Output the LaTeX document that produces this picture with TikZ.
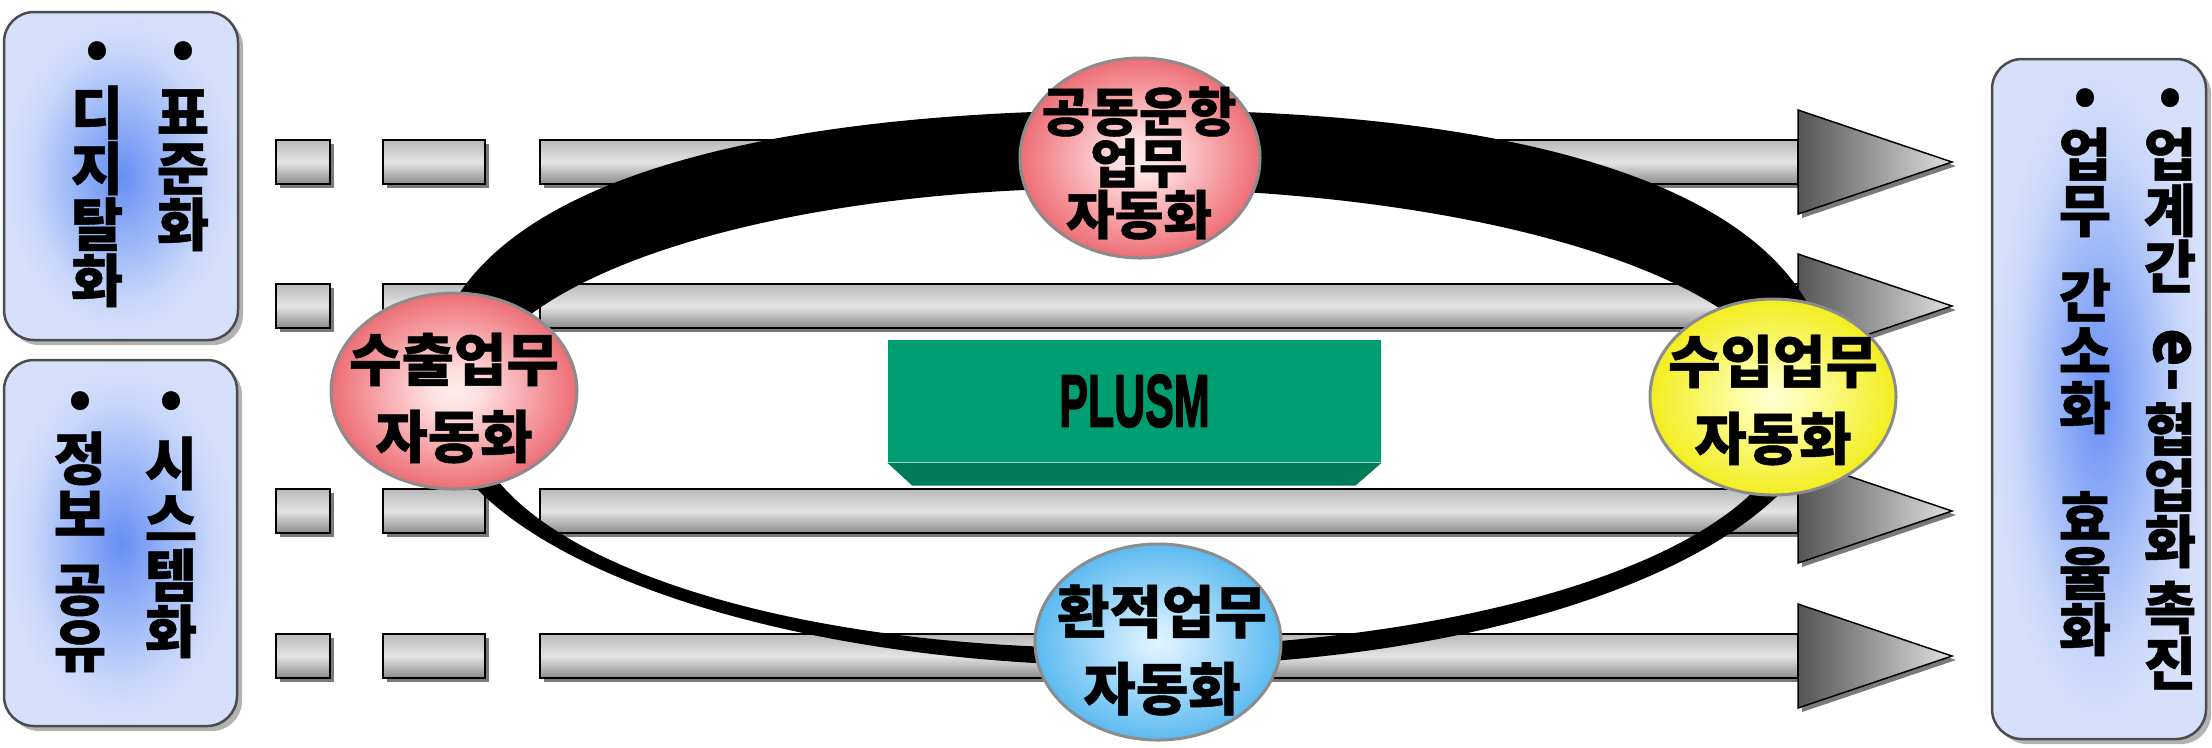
\documentclass[tikz,border=0pt]{standalone}
\usepackage{graphicx}
\usepackage{fontspec}
\setmainfont{Liberation Sans}
\newfontfamily\kr{Noto Sans CJK KR}[BoldFeatures={FakeBold=0.8}]
\newfontfamily\heavy{Liberation Sans}[BoldFeatures={FakeBold=2.5}]
\usetikzlibrary{shapes.geometric,shadows}
\newdimen\pxu
\pxu=0.01cm
\definecolor{gtop}{RGB}{185,185,185}
\definecolor{gmid}{RGB}{228,228,228}
\definecolor{gbot}{RGB}{140,140,140}
\definecolor{plusmface}{RGB}{0,158,115}
\definecolor{plusmside}{RGB}{0,124,90}
\pgfdeclarehorizontalshading{headshade}{100bp}{rgb(0bp)=(0.33,0.33,0.33); rgb(25bp)=(0.33,0.33,0.33); rgb(75bp)=(0.88,0.88,0.88); rgb(100bp)=(0.88,0.88,0.88)}
\pgfdeclareradialshading{redball}{\pgfpoint{0bp}{0bp}}{rgb(0bp)=(1,0.93,0.93); rgb(5bp)=(1,0.88,0.88); rgb(25bp)=(0.93,0.43,0.46); rgb(50bp)=(0.93,0.43,0.46)}
\pgfdeclareradialshading{yellowball}{\pgfpoint{0bp}{0bp}}{rgb(0bp)=(1,1,0.85); rgb(5bp)=(1,1,0.7); rgb(25bp)=(0.95,0.93,0.12); rgb(50bp)=(0.95,0.93,0.12)}
\pgfdeclareradialshading{blueball}{\pgfpoint{0bp}{0bp}}{rgb(0bp)=(0.88,0.96,1); rgb(5bp)=(0.8,0.92,1); rgb(25bp)=(0.36,0.73,0.94); rgb(50bp)=(0.36,0.73,0.94)}
\pgfdeclareradialshading{boxglow}{\pgfpoint{0bp}{0bp}}{rgb(0bp)=(0.4,0.56,0.96); rgb(19bp)=(0.78,0.84,0.98); rgb(25bp)=(0.84,0.88,0.98); rgb(50bp)=(0.84,0.88,0.98)}
\tikzset{
  shadowed/.style={drop shadow={shadow xshift=4\pxu, shadow yshift=-4\pxu, opacity=0.8, fill=black!65}},
  graybar/.style={draw=black, line width=1.5\pxu, top color=gtop, bottom color=gbot, middle color=gmid, shadowed},
  grayhead/.style={draw=black, line width=1.5\pxu, shading=headshade, shadowed},
  grayrow/.pic={
    \path[graybar] (276,-22) rectangle (330,22);
    \path[graybar] (383,-22) rectangle (485,22);
    \path[graybar] (540,-22) rectangle (1798,22);
    \path[grayhead] (1798,-52) -- (1952,0) -- (1798,52) -- cycle;
  },
  infobox/.style={draw=black!70, line width=2.5\pxu, rounded corners=30\pxu, shading=boxglow, inner sep=0pt,
    drop shadow={shadow xshift=5\pxu, shadow yshift=-5\pxu, opacity=0.5, fill=black!60}},
  colfont/.style={font={\kr\bfseries\fontsize{57\pxu}{56\pxu}\selectfont\lineskiplimit-100pt}},
  coltext/.style={anchor=north, inner sep=0pt, align=center, colfont},
  ball/.style={ellipse, draw=black!45, line width=3\pxu, inner sep=0pt, minimum width=246\pxu, minimum height=196\pxu},
  balltext/.style={inner sep=0pt, align=center,
    font={\kr\bfseries\fontsize{57\pxu}{77\pxu}\selectfont\lineskiplimit-100pt}},
  balltextsmall/.style={inner sep=0pt, align=center,
    font={\kr\bfseries\fontsize{53\pxu}{51.5\pxu}\selectfont\lineskiplimit-100pt}},
  bandfill/.style={fill=black, even odd rule},
  plusmbox/.style={fill=plusmface, inner sep=0pt, minimum width=493\pxu, minimum height=122\pxu,
    font={\heavy\bfseries\fontsize{74\pxu}{80\pxu}\selectfont}},
}
\begin{document}
\begin{tikzpicture}[x=0.01cm,y=-0.01cm]
\useasboundingbox (0,0) rectangle (2212,747);
\fill[white] (0,0) rectangle (2212,747);

% gray rows
\pic at (0,162) {grayrow};
\pic at (0,306) {grayrow};
\pic at (0,511) {grayrow};
\pic at (0,656) {grayrow};

% black band (outer boundary, inner boundary)
\path[bandfill]
  (430,390) .. controls (430,210.8) and (685.6,110) .. (1140,110)
            .. controls (1581.6,110) and (1830,210.8) .. (1830,390)
            .. controls (1830,542.4) and (1521.1,666) .. (1140,666)
            .. controls (747.9,666) and (430,542.4) .. (430,390) -- cycle
  (470,410) .. controls (470,285.7) and (752.5,188) .. (1112,188)
            .. controls (1493.4,188) and (1793,285.7) .. (1793,410)
            .. controls (1793,543.3) and (1493.4,648) .. (1112,648)
            .. controls (752.5,648) and (470,543.3) .. (470,410) -- cycle;

% PLUSM block
\node[plusmbox] (plusm) at (1134.5,401) {\scalebox{0.58}[1]{PLUSM}};
\fill[plusmside] (plusm.south west) -- ++(25,23) -- ++(443,0) -- (plusm.south east) -- cycle;

% ellipses
\node[ball, shading=redball] (exp) at (454,391) {};
\node[balltext] (expt) at (454,398) {수출업무\\자동화};
\node[ball, shading=redball, minimum width=240\pxu, minimum height=200\pxu] (cop) at (1140,158) {};
\node[balltextsmall] (copt) at (1139,163) {공동운항\\업무\\자동화};
\node[ball, shading=yellowball] (imp) at (1773,397) {};
\node[balltext] (impt) at (1773,400) {수입업무\\자동화};
\node[ball, shading=blueball] (trn) at (1158,642) {};
\node[balltext] (trnt) at (1162,650) {환적업무\\자동화};

% left boxes
\node[infobox, minimum width=234\pxu, minimum height=328\pxu] (boxA) at (121,176) {};
\node[coltext] (a1) at (97,27) {\rule{0pt}{40\pxu}•\\[10\pxu]디\\지\\탈\\화};
\node[coltext] (a2) at (183,27) {\rule{0pt}{40\pxu}•\\[10\pxu]표\\준\\화};

\node[infobox, minimum width=233\pxu, minimum height=366\pxu] (boxB) at (120.5,543) {};
\node[coltext] (b1) at (80,377) {\rule{0pt}{40\pxu}•\\[6\pxu]정\\보\\[19\pxu]공\\유};
\node[coltext] (b2) at (171,377) {\rule{0pt}{40\pxu}•\\[11\pxu]시\\스\\템\\화};

% right box
\node[infobox, minimum width=214\pxu, minimum height=680\pxu] (boxC) at (2099,399) {};
\node[coltext] (c1) at (2085,74) {\rule{0pt}{40\pxu}•\\[5\pxu]업\\무\\[29\pxu]간\\소\\화\\[54\pxu]효\\율\\화};
\node[coltext] (c2) at (2170,74) {\rule{0pt}{40\pxu}•\\[5\pxu]업\\계\\간\\[107\pxu]협\\업\\화\\[10\pxu]촉\\진};
\node[rotate=-90, inner sep=0pt, font={\kr\bfseries\fontsize{64\pxu}{64\pxu}\selectfont}] (c2e) at (2172,360) {e-};
\end{tikzpicture}
\end{document}
